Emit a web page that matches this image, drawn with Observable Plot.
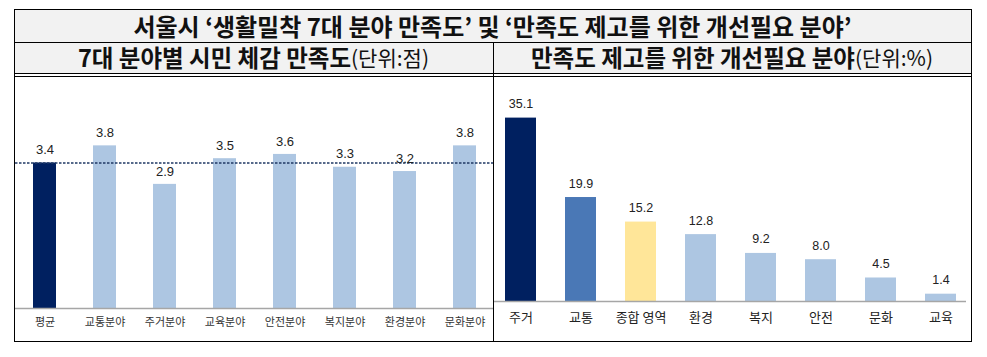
<!DOCTYPE html>
<html>
<head>
<meta charset="utf-8">
<script src="https://cdn.jsdelivr.net/npm/d3@7"></script>
<script src="https://cdn.jsdelivr.net/npm/@observablehq/plot@0.6"></script>
<style>
  html, body { margin: 0; padding: 0; background: #fff; width: 987px; height: 357px; overflow: hidden; }
  body { position: relative; font-family: "Noto Sans CJK KR", sans-serif; }
  .abs { position: absolute; box-sizing: border-box; }
  .bg { background: #f2f2f2; }
  .hl { background: #000; height: 1.3px; }
  .vl { background: #000; width: 1.3px; }
  .title { display: flex; align-items: center; justify-content: center; font-weight: 700; color: #111; white-space: nowrap; line-height: 1; }
  .t1 { font-size: 24px; }
  .t2 { font-size: 23.5px; }
  .t2 .u { font-weight: 400; font-size: 21px; }
</style>
</head>
<body>
<script>
// ---- data ----
const pageTitle = "서울시 ‘생활밀착 7대 분야 만족도’ 및 ‘만족도 제고를 위한 개선필요 분야’";
const leftTitle = "7대 분야별 시민 체감 만족도";
const leftUnit = "(단위:점)";
const rightTitle = "만족도 제고를 위한 개선필요 분야";
const rightUnit = "(단위:%)";

const leftCats = ["평균", "교통분야", "주거분야", "교육분야", "안전분야", "복지분야", "환경분야", "문화분야"];
const leftVals = [3.4, 3.8, 2.9, 3.5, 3.6, 3.3, 3.2, 3.8];

const rightCats = ["주거", "교통", "종합 영역", "환경", "복지", "안전", "문화", "교육"];
const rightVals = [35.1, 19.9, 15.2, 12.8, 9.2, 8.0, 4.5, 1.4];

// ---- styles ----
const NAVY = "#002060";
const MID = "#4a78b6";
const YELLOW = "#ffe699";
const LIGHT = "#adc6e2";
const fmt = d3.format(".1f");

function el(cls, css, html) {
  const d = document.createElement("div");
  d.className = "abs " + cls;
  Object.assign(d.style, css);
  if (html != null) d.innerHTML = html;
  document.body.appendChild(d);
  return d;
}

// backgrounds
el("bg", {left: "14px", top: "9px", width: "957px", height: "64px"});

// text rows
el("title t1", {left: "14px", top: "9px", width: "957px", height: "33px"}).textContent = pageTitle;
el("title t2", {left: "14px", top: "42px", width: "479px", height: "31px"},
   `${leftTitle}<span class="u">${leftUnit}</span>`);
el("title t2", {left: "493px", top: "42px", width: "478px", height: "31px"},
   `${rightTitle}<span class="u">${rightUnit}</span>`);

// charts
const leftData = leftCats.map((c, i) => ({cat: c, val: leftVals[i]}));
const rightData = rightCats.map((c, i) => ({cat: c, val: rightVals[i]}));

const leftChart = Plot.plot({
  width: 478, height: 264,
  marginTop: 17, marginBottom: 33, marginLeft: 0, marginRight: 0,
  x: {domain: leftCats, paddingInner: 0.62, paddingOuter: 0.236},
  y: {domain: [0, 5], axis: null},
  style: {background: "transparent", color: "#333", fontFamily: "'Noto Sans CJK KR', sans-serif"},
  marks: [
    Plot.barY(leftData, {x: "cat", y: "val", fill: (d) => d.cat === leftCats[0] ? NAVY : LIGHT}),
    Plot.ruleY([0], {stroke: "#a6a6a6", strokeWidth: 1.5}),
    Plot.ruleY([leftVals[0]], {stroke: "#1f3864", strokeWidth: 1.4, strokeDasharray: "2.5,1.5"}),
    Plot.text(leftData, {x: "cat", y: "val", text: (d) => fmt(d.val), dy: -13, fontSize: 13, fill: "#222",
      fontFamily: "'Liberation Sans', Arial, sans-serif"}),
    Plot.axisX({tickSize: 0, tickPadding: 9.5, fontSize: 11, label: null, fill: "#333"})
  ]
});

const rightChart = Plot.plot({
  width: 477, height: 264,
  marginTop: 15, marginBottom: 40, marginLeft: 0, marginRight: 5,
  x: {domain: rightCats, paddingInner: 0.488, paddingOuter: 0.14},
  y: {domain: [0, 40], axis: null},
  style: {background: "transparent", color: "#222", fontFamily: "'Noto Sans CJK KR', sans-serif"},
  marks: [
    Plot.barY(rightData, {x: "cat", y: "val",
      fill: (d) => d.cat === rightCats[0] ? NAVY : d.cat === rightCats[1] ? MID : d.cat === rightCats[2] ? YELLOW : LIGHT}),
    Plot.ruleY([0], {stroke: "#a6a6a6", strokeWidth: 1.5}),
    Plot.text(rightData, {x: "cat", y: "val", text: (d) => fmt(d.val), dy: -14, fontSize: 12.5, fill: "#222",
      fontFamily: "'Liberation Sans', Arial, sans-serif"}),
    Plot.axisX({tickSize: 0, tickPadding: 11, fontSize: 13, label: null, fill: "#222"})
  ]
});

const lw = el("", {left: "15px", top: "77px", width: "478px", height: "264px"});
lw.appendChild(leftChart);
const rw = el("", {left: "494px", top: "77px", width: "477px", height: "264px"});
rw.appendChild(rightChart);

// table lines
el("", {left: "14px", top: "9px", width: "958px", height: "333px", border: "1.3px solid #000"});
el("hl", {left: "14px", top: "42px", width: "958px"});
el("hl", {left: "14px", top: "73px", width: "958px"});
el("hl", {left: "14px", top: "76px", width: "958px"});
el("vl", {left: "493px", top: "42px", height: "300px"});
</script>
</body>
</html>
